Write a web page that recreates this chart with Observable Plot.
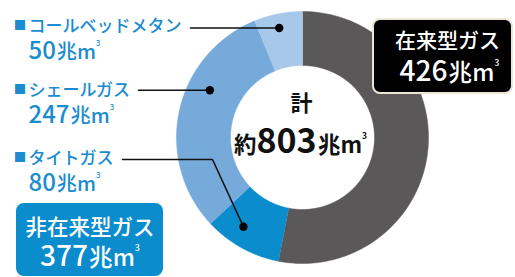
<!DOCTYPE html>
<html><head><meta charset="utf-8">
<script src="https://cdn.jsdelivr.net/npm/d3@7"></script>
<script src="https://cdn.jsdelivr.net/npm/@observablehq/plot@0.6"></script>
<style>body{margin:0;background:#fff;} svg{display:block;}</style>
</head><body><div id="chart"></div>
<script>
// ---- data ----
const categories = ["在来型ガス", "タイトガス", "シェールガス", "コールベッドメタン"];
const values = [426, 80, 247, 50];
const colors = ["#5a5858", "#0a8ccd", "#76aadb", "#a6c8e9"];
const unitLabel = "兆m³";
const totalValue = 803;
const nonConventionalValue = 377;

// ---- layout ----
const W = 515, H = 277, cx = 302, cy = 137, R = 126, R0 = 72;
const blue = "#1a8ccf";
const font = "'Noto Sans CJK JP', 'Noto Sans', sans-serif";

const slices = d3.pie().sort(null).value(d => d.value)(
  categories.map((c, i) => ({name: c, value: values[i], color: colors[i]}))
);
function ring(a) {
  const pts = [], n = 90;
  for (let k = 0; k <= n; k++) {
    const t = a.startAngle + (a.endAngle - a.startAngle) * k / n;
    pts.push({x: cx + R * Math.sin(t), y: cy - R * Math.cos(t)});
  }
  for (let k = n; k >= 0; k--) {
    const t = a.startAngle + (a.endAngle - a.startAngle) * k / n;
    pts.push({x: cx + R0 * Math.sin(t), y: cy - R0 * Math.cos(t)});
  }
  return pts;
}
const polar = (deg, rad) => ({x: cx + rad * Math.sin(deg * Math.PI / 180), y: cy - rad * Math.cos(deg * Math.PI / 180)});

// leader dots (angle in degrees clockwise from top, radius)
const dotCBM = polar(348, 112), dotShale = polar(297, 104), dotTight = polar(213.5, 107);
const leaders = [
  [{x: 190, y: dotCBM.y}, dotCBM],
  [{x: 138, y: dotShale.y}, dotShale],
  [{x: 122, y: 159}, {x: 212, y: 159}, dotTight]
];

const labels = [
  {t: categories[3], v: values[3], y1: 31, y2: 58},
  {t: categories[2], v: values[2], y1: 95, y2: 122},
  {t: categories[1], v: values[1], y1: 163, y2: 190}
];

const marks = [];
for (const s of slices) {
  marks.push(Plot.line(ring(s), {x: "x", y: "y", fill: s.data.color, stroke: s.data.color, strokeWidth: 0.5}));
}
for (const l of leaders) marks.push(Plot.line(l, {x: "x", y: "y", stroke: "#111", strokeWidth: 1.6}));
marks.push(Plot.dot([dotCBM, dotShale, dotTight], {x: "x", y: "y", r: 4.2, fill: "#000"}));

// left labels
marks.push(Plot.text(labels, {x: 19.5, y: d => d.y1 - 6, text: () => "■", fontSize: 12.5, fill: blue, fontFamily: font}));
marks.push(Plot.text(labels, {x: 28, y: "y1", text: "t", textAnchor: "start", lineAnchor: "bottom", fontSize: 17, fontWeight: 500, fill: blue, fontFamily: font}));
marks.push(Plot.text(labels, {x: 28, y: "y2", text: d => d.v + unitLabel, textAnchor: "start", lineAnchor: "bottom", fontSize: 24, fontWeight: 500, fill: blue, fontFamily: font}));

// boxes
marks.push(Plot.rect([{x1: 16, x2: 163, y1: 203, y2: 276}], {x1: "x1", x2: "x2", y1: "y1", y2: "y2", fill: "#0a8ccd", rx: 8}));
marks.push(Plot.rect([{x1: 373, x2: 512, y1: 19, y2: 93}], {x1: "x1", x2: "x2", y1: "y1", y2: "y2", fill: "#000", stroke: "#ece6d6", strokeWidth: 2, rx: 7}));
marks.push(Plot.text(["非在来型ガス"], {x: 89.5, y: 234, text: d => d, lineAnchor: "bottom", fontSize: 21.5, fontWeight: 500, fill: "#fff", fontFamily: font}));
marks.push(Plot.text([nonConventionalValue + unitLabel], {x: 89.5, y: 265, text: d => d, lineAnchor: "bottom", fontSize: 28, fontWeight: 500, fill: "#fff", fontFamily: font}));
marks.push(Plot.text([categories[0]], {x: 447, y: 47, text: d => d, lineAnchor: "bottom", fontSize: 21, fontWeight: 500, fill: "#fff", fontFamily: font}));
marks.push(Plot.text([values[0] + unitLabel], {x: 449, y: 80, text: d => d, lineAnchor: "bottom", fontSize: 28, fontWeight: 500, fill: "#fff", fontFamily: font}));

// center
marks.push(Plot.text(["計"], {x: 301, y: 110, text: d => d, lineAnchor: "bottom", fontSize: 22, fontWeight: 700, fill: "#111", fontFamily: font}));
marks.push(Plot.text(["約" + totalValue + unitLabel], {x: 300, y: 152, text: d => d, lineAnchor: "bottom", fontSize: 34, fontWeight: 700, fill: "#111", fontFamily: font}));

const chart = Plot.plot({
  width: W, height: H, margin: 0,
  x: {domain: [0, W], range: [0, W], axis: null},
  y: {domain: [0, H], range: [0, H], axis: null},
  style: {background: "#fff", fontFamily: font},
  marks
});

// rich text: smaller unit and superscript 3
d3.select(chart).selectAll("text").each(function() {
  const s = this.textContent;
  const m = s.match(/^(約?)(\d+)(兆)m³$/);
  if (!m) return;
  const g = this.parentNode;
  const fs = parseFloat(this.getAttribute("font-size") || g.getAttribute("font-size") || 20);
  const sel = d3.select(this);
  sel.text(null);
  const usz = fs * (m[1] ? 0.66 : 0.84);
  if (m[1]) sel.append("tspan").attr("font-size", usz).text(m[1]);
  sel.append("tspan").text(m[2]);
  sel.append("tspan").attr("font-size", usz).attr("dx", fs * 0.04).text(m[3]);
  sel.append("tspan").attr("font-size", usz).text("m");
  sel.append("tspan").attr("font-size", usz * 0.38).attr("dy", -usz * 0.62).text("3");
});

document.getElementById("chart").appendChild(chart);
</script>
</body></html>
